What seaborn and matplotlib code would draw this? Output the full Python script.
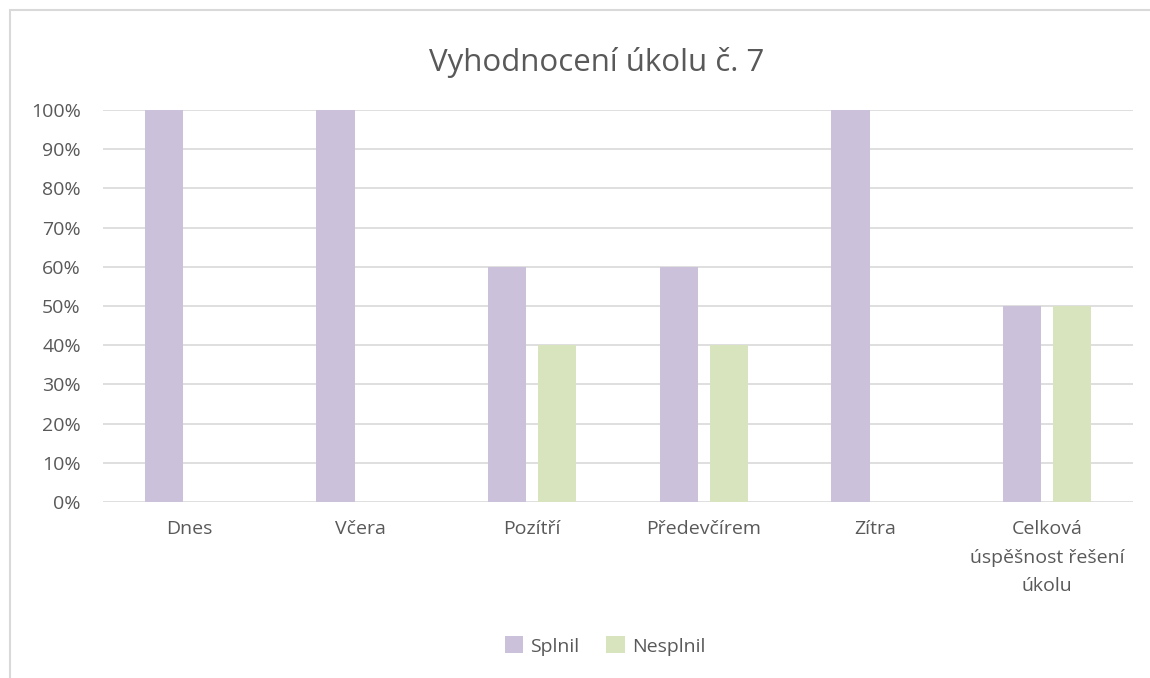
import pandas as pd
import matplotlib
matplotlib.use('Agg')
import matplotlib.pyplot as plt
import seaborn as sns
from matplotlib.patches import Rectangle
from matplotlib.ticker import PercentFormatter

categories = ["Dnes", "Včera", "Pozítří", "Předevčírem", "Zítra",
	"Celková\núspěšnost řešení\núkolu"]
splnil = [1.0, 1.0, 0.6, 0.6, 1.0, 0.5]
nesplnil = [0.0, 0.0, 0.4, 0.4, 0.0, 0.5]
series = ["Splnil", "Nesplnil"]
colors = ["#CCC1DA", "#D7E4BD"]

df = pd.DataFrame({
	"kategorie": categories * 2,
	"hodnota": splnil + nesplnil,
	"serie": [series[0]] * len(categories) + [series[1]] * len(categories),
})

sns.set_style("white")
plt.rcParams['font.family'] = ['Open Sans', 'DejaVu Sans']
text_col = "#595959"
W, H = 1150, 678

fig = plt.figure(figsize=(W / 100, H / 100), dpi=100)
ax = fig.add_axes([103 / W, 1 - 502 / H, 1030 / W, 392 / H])
sns.barplot(data=df, x="kategorie", y="hodnota", hue="serie", hue_order=series,
	palette=colors, width=0.58, gap=0.23, ax=ax, legend=True, saturation=1,
	linewidth=0)

ax.set_ylim(0, 1)
ax.set_xlim(-0.5, len(categories) - 0.5)
ax.set_yticks([i / 10 for i in range(11)])
ax.yaxis.set_major_formatter(PercentFormatter(1.0, decimals=0))
ax.grid(axis="y", color="#D9D9D9", lw=1.2)
ax.set_axisbelow(True)
for s in ax.spines.values():
	s.set_visible(False)
ax.tick_params(axis="both", length=0, colors=text_col, labelsize=14)
ax.tick_params(axis="y", pad=16)
ax.tick_params(axis="x", pad=13)
for t in ax.get_xticklabels():
	t.set_linespacing(1.75)
ax.set_xlabel("")
ax.set_ylabel("")

h, l = ax.get_legend_handles_labels()
ax.legend_.remove()
fig.legend(h, l, loc="center", bbox_to_anchor=(605 / W, 1 - 646 / H), ncol=2,
	frameon=False, fontsize=14, handlelength=0.95, handleheight=0.95,
	handletextpad=0.35, columnspacing=1.4, labelcolor=text_col)

fig.text(597 / W, 1 - 62 / H, "Vyhodnocení úkolu č. 7", ha="center", va="center",
	fontsize=22.5, color=text_col)

# ramecek grafu
fig.patches.append(Rectangle((9.5 / W, -0.1), 1.2, 1.1 - 10.5 / H, transform=fig.transFigure,
	fill=False, edgecolor="#D9D9D9", lw=1.5))

fig.savefig("out.png", dpi=100)
